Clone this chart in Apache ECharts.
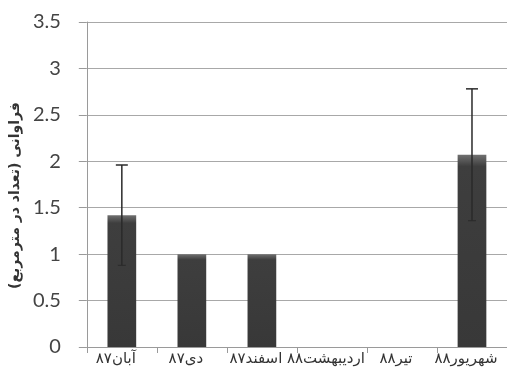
<!DOCTYPE html>
<html>
<head>
<meta charset="utf-8">
<script src="https://cdn.jsdelivr.net/npm/echarts@6/dist/echarts.min.js"></script>
<style>
  html, body { margin: 0; padding: 0; background: #fff; }
  #chart { width: 507px; height: 388px; }
</style>
</head>
<body>
<div id="chart"></div>
<script>
// Sampling months (Persian calendar)
const months = ['آبان۸۷', 'دی۸۷', 'اسفند۸۷', 'اردیبهشت۸۸', 'تیر۸۸', 'شهریور۸۸'];
// Mean frequency (count per square metre)
const meanFreq = [1.42, 1, 1, 0, 0, 2.07];
// Standard error, drawn symmetrically around the mean
const stdErr = [0.54, 0, 0, 0, 0, 0.71];
// Value axis ticks
const yMin = 0, yMax = 3.5, yStep = 0.5;
const yTitle = 'فراوانی (تعداد در مترمربع)';

const errData = months.map((m, i) => [i, meanFreq[i] - stdErr[i], meanFreq[i] + stdErr[i]]);

const chart = echarts.init(document.getElementById('chart'));
chart.setOption({
  animation: false,
  backgroundColor: '#ffffff',
  grid: { left: 84, top: 22, width: 426, bottom: 41, containLabel: false },
  xAxis: {
    type: 'category',
    data: months,
    axisLine: { lineStyle: { color: '#9a9a9a', width: 1 } },
    axisTick: { show: true, length: 6, lineStyle: { color: '#9a9a9a' } },
    axisLabel: {
      fontFamily: 'DejaVu Sans', fontSize: 15, color: '#333', margin: 5,
      interval: 0, padding: [0, 12, 0, 0]
    },
    splitLine: { show: false }
  },
  yAxis: {
    type: 'value',
    min: yMin, max: yMax, interval: yStep,
    name: yTitle,
    nameLocation: 'middle',
    nameRotate: 90,
    nameGap: 57,
    nameTextStyle: {
      fontFamily: 'DejaVu Sans', fontSize: 14, fontWeight: 'bold', color: '#333',
      padding: [0, 22, 0, 0]
    },
    axisLine: { show: true, lineStyle: { color: '#9a9a9a', width: 1 } },
    axisTick: { show: true, length: 8, lineStyle: { color: '#9a9a9a' } },
    axisLabel: {
      fontFamily: 'Lato', fontSize: 20, color: '#444', margin: 26,
      formatter: v => String(v)
    },
    splitLine: { show: true, lineStyle: { color: '#a8a8a8', width: 1 } }
  },
  series: [
    {
      type: 'bar',
      data: meanFreq,
      barWidth: '41%',
      itemStyle: {
        color: new echarts.graphic.LinearGradient(0, 0, 0, 1, [
          { offset: 0, color: '#707070' },
          { offset: 0.06, color: '#3e3e3e' },
          { offset: 1, color: '#383838' }
        ])
      },
      z: 2
    },
    {
      type: 'custom',
      data: errData,
      z: 3,
      renderItem: function (params, api) {
        const idx = api.value(0);
        const lo = api.coord([idx, api.value(1)]);
        const hi = api.coord([idx, api.value(2)]);
        if (Math.abs(lo[1] - hi[1]) < 0.5) return null;
        const half = 6;
        const style = { stroke: '#2a2a2a', lineWidth: 1.5 };
        return {
          type: 'group',
          children: [
            { type: 'line', shape: { x1: hi[0], y1: hi[1], x2: lo[0], y2: lo[1] }, style: style },
            { type: 'line', shape: { x1: hi[0] - half, y1: hi[1], x2: hi[0] + half, y2: hi[1] }, style: style },
            { type: 'line', shape: { x1: lo[0] - 4, y1: lo[1], x2: lo[0] + 4, y2: lo[1] }, style: { stroke: '#2a2a2a', lineWidth: 1 } }
          ]
        };
      }
    }
  ]
});
</script>
</body>
</html>
